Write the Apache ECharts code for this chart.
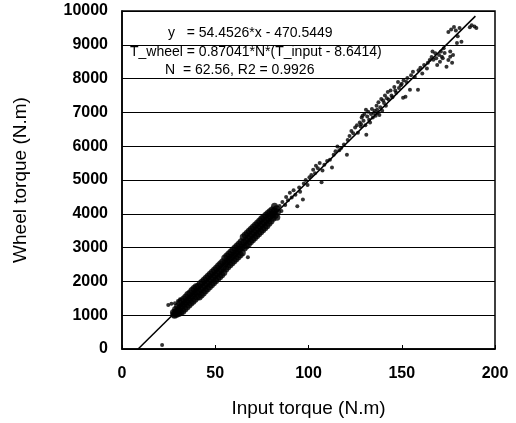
<!DOCTYPE html>
<html>
<head>
<meta charset="utf-8">
<title>Wheel torque vs input torque</title>
<script src="https://cdn.jsdelivr.net/npm/echarts/dist/echarts.min.js"></script>
<style>
    html, body { margin: 0; padding: 0; background: #fff; }
    #chart { width: 516px; height: 423px; }
</style>
</head>
<body>
<div id="chart"></div>
<script>
// dense band of measurements (input torque, wheel torque)
var denseData = [
    [27.6,1080],[27.9,1030],[28.2,1000],[28.7,1170],[29.0,1100],[29.3,1030],[29.8,1260],[30.1,1150],[30.4,1050],
    [30.9,1350],[31.2,1220],[31.5,1080],[32.0,1420],[32.3,1280],[32.6,1120],[33.1,1480],[33.4,1330],[33.7,1180],
    [34.2,1540],[34.5,1400],[34.8,1240],[35.3,1610],[35.6,1450],[35.9,1300],[36.4,1660],[36.7,1510],[37.0,1360],
    [37.5,1730],[37.8,1570],[38.1,1410],[38.6,1790],[38.9,1640],[39.2,1470],[39.7,1840],[40.0,1690],[40.3,1540],
    [40.8,1860],[41.1,1700],[41.4,1540],[41.9,1930],[42.2,1760],[42.5,1600],[43.0,1980],[43.3,1820],[43.6,1660],
    [44.1,2040],[44.4,1880],[44.7,1720],[45.2,2100],[45.5,1940],[45.8,1780],[46.3,2160],[46.6,2000],[46.9,1840],
    [47.4,2220],[47.7,2060],[48.0,1900],[48.5,2280],[48.8,2120],[49.1,1960],[49.6,2340],[49.9,2180],[50.2,2020],
    [50.7,2400],[51.0,2240],[51.3,2080],[51.8,2460],[52.1,2300],[52.4,2140],[52.9,2520],[53.2,2360],[53.5,2200],
    [54.0,2580],[54.3,2420],[54.6,2260],[55.1,2690],[55.4,2530],[55.7,2370],[56.2,2750],[56.5,2590],[56.8,2430],
    [57.3,2810],[57.6,2650],[57.9,2490],[58.4,2870],[58.7,2710],[59.0,2550],[59.5,2930],[59.8,2770],[60.1,2610],
    [60.6,2990],[60.9,2830],[61.2,2670],[61.7,3050],[62.0,2890],[62.3,2730],[62.8,3110],[63.1,2950],[63.4,2790],
    [63.9,3170],[64.2,3010],[64.5,2850],[65.0,3310],[65.3,3150],[65.6,2990],[66.1,3370],[66.4,3210],[66.7,3050],
    [67.2,3430],[67.5,3270],[67.8,3110],[68.3,3490],[68.6,3330],[68.9,3170],[69.4,3550],[69.7,3390],[70.0,3230],
    [70.5,3610],[70.8,3450],[71.1,3290],[71.6,3670],[71.9,3510],[72.2,3350],[72.7,3730],[73.0,3570],[73.3,3410],
    [73.8,3790],[74.1,3630],[74.4,3470],[74.9,3850],[75.2,3690],[75.5,3530],[76.0,3900],[76.3,3750],[76.6,3590],
    [77.1,3960],[77.4,3810],[77.7,3650],[78.2,4010],[78.5,3870],[78.8,3720],[79.3,4060],[79.6,3930],[79.9,3790],
    [80.4,4110],[80.7,3990],[81.0,3870],[81.6,4080],[82.2,3960],[82.8,4150],[83.4,4060],[81.8,4220],[83.0,3900]
];

// scattered measurements
var sparseData = [
    [21.5,118],[24.8,1300],[26.5,1340],[28.4,1357],[30.0,1420],[31.1,1475],[67.5,2714],
    [84.5,4230],[85.5,4080],[86.0,4350],[87.5,4260],[88.0,4500],[89.0,4400],[90.0,4620],[91.0,4480],[92.0,4700],
    [93.0,4560],[94.0,4220],[95.0,4780],[95.5,4650],[97.0,4425],[97.5,4900],[98.5,5000],[99.5,4850],[100.5,5080],
    [101.5,5150],[102.5,5300],[103.5,5200],[104.0,5420],[105.0,5350],[106.0,5500],[107.0,4930],[107.5,5280],
    [108.5,5450],[110.0,5560],[111.5,5600],[112.6,5370],[113.5,5750],[114.5,5850],[115.5,5990],[116.5,5880],
    [117.5,5950],[119.0,6050],[120.6,5750],[121.0,6180],[122.0,6300],[123.0,6450],[124.0,6380],[125.0,6550],
    [126.0,6620],[126.5,6400],[127.5,6700],[128.0,6580],[128.2,6650],[128.5,6850],[129.0,6900],[129.5,6750],
    [130.0,6950],[130.5,6620],[130.8,7080],[131.0,6340],[131.5,6880],[132.0,7020],[132.5,6780],[133.0,6700],
    [133.5,6950],[134.0,7100],[134.5,6850],[135.0,6980],[135.5,7050],[136.0,6900],[136.5,7200],[136.8,7080],
    [137.0,6980],[137.5,7300],[138.0,6920],[138.5,7150],[139.0,7400],[139.5,7050],[140.0,7350],[140.5,7280],
    [141.0,7500],[141.5,7200],[142.0,7420],[142.5,7600],[143.0,7380],[144.0,7650],[144.5,7500],[145.0,7450],
    [146.0,7750],[146.5,7650],[147.0,7580],[148.0,7900],[148.5,7720],[149.5,7800],[150.0,7850],[150.7,7430],
    [151.0,7950],[152.0,7460],[152.5,7900],[153.0,8020],[154.4,7670],[155.0,8100],[156.0,8200],[157.0,8050],
    [158.7,7670],[159.0,8250],[160.0,8320],[161.0,8150],[162.0,8400],[163.5,8300],[164.0,8470],[165.0,8550],
    [166.0,8640],[166.5,8800],[167.0,8555],[168.0,8750],[168.5,8600],[169.0,8400],[170.0,8700],[170.5,8500],
    [171.0,8800],[171.5,8650],[172.0,8600],[172.5,8900],[173.0,8760],[174.0,8350],[175.0,8550],[176.0,8650],
    [176.0,8800],[177.0,8470],[177.5,8700],[175.0,9380],[176.5,9450],[178.0,9530],[179.0,9420],[179.6,9050],
    [180.0,9250],[181.0,9500],[182.0,9090],[186.5,9520],[187.5,9580],[189.0,9540],[190.0,9500]
];

// fitted line end points
var fitLine = [[8.64, 0], [189.5, 9848]];

var xTicks = [0, 50, 100, 150, 200];
var yTicks = [0, 1000, 2000, 3000, 4000, 5000, 6000, 7000, 8000, 9000, 10000];

var fitTexts = [
    'y   = 54.4526*x - 470.5449',
    'T_wheel = 0.87041*N*(T_input - 8.6414)',
    'N  = 62.56, R2 = 0.9926'
];

var font = 'Liberation Sans, Arial, sans-serif';

var myChart = echarts.init(document.getElementById('chart'));

var option = {
    animation: false,
    backgroundColor: '#fff',
    grid: {
        left: 122,
        right: 21,
        top: 11,
        bottom: 73,
        show: true,
        borderColor: '#000',
        borderWidth: 1.5,
        backgroundColor: 'transparent'
    },
    xAxis: {
        type: 'value',
        min: xTicks[0],
        max: xTicks[xTicks.length - 1],
        interval: 50,
        name: 'Input torque (N.m)',
        nameLocation: 'middle',
        nameGap: 50,
        nameTextStyle: { color: '#000', fontSize: 19, fontFamily: font },
        axisLine: { show: true, lineStyle: { color: '#000', width: 1.5 } },
        axisTick: { show: true, inside: true, length: 4, lineStyle: { color: '#000' } },
        axisLabel: { color: '#000', fontSize: 16, fontWeight: 'bold', fontFamily: font, margin: 17 },
        splitLine: { show: false }
    },
    yAxis: {
        type: 'value',
        min: yTicks[0],
        max: yTicks[yTicks.length - 1],
        interval: 1000,
        name: 'Wheel torque (N.m)',
        nameLocation: 'middle',
        nameGap: 92,
        nameTextStyle: { color: '#000', fontSize: 19, fontFamily: font },
        axisLine: { show: true, lineStyle: { color: '#000', width: 1.5 } },
        axisTick: { show: false },
        axisLabel: {
            color: '#000', fontSize: 16, fontWeight: 'bold', fontFamily: font, margin: 14,
            formatter: function (v) { return String(v); }
        },
        splitLine: { show: true, lineStyle: { color: '#000', width: 1 } }
    },
    graphic: [
        { type: 'text', left: 168, top: 26, style: { text: fitTexts[0], fill: '#000', font: '14px ' + font } },
        { type: 'text', left: 130, top: 45, style: { text: fitTexts[1], fill: '#000', font: '14px ' + font } },
        { type: 'text', left: 165, top: 63, style: { text: fitTexts[2], fill: '#000', font: '14px ' + font } }
    ],
    series: [
        {
            name: 'dense',
            type: 'scatter',
            data: denseData,
            symbolSize: 7,
            itemStyle: { color: '#000' }
        },
        {
            name: 'sparse',
            type: 'scatter',
            data: sparseData,
            symbolSize: 4,
            itemStyle: { color: '#000' }
        },
        {
            name: 'fit',
            type: 'line',
            data: fitLine,
            showSymbol: false,
            lineStyle: { color: '#000', width: 1.5 }
        }
    ]
};

myChart.setOption(option);
</script>
</body>
</html>
